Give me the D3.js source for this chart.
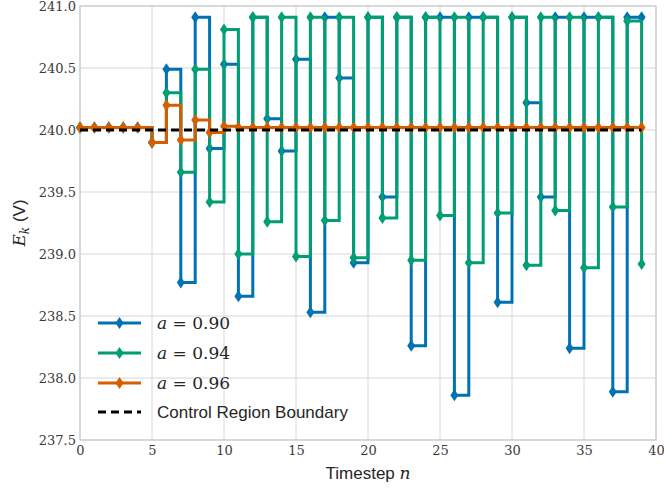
<!DOCTYPE html>
<html>
<head>
<meta charset="utf-8">
<script src="https://cdn.jsdelivr.net/npm/d3@7"></script>
<style>
  body { margin: 0; background: #fff; }
  svg { display: block; }
  .label { font-family: "Liberation Sans", "DejaVu Sans", sans-serif; font-size: 17px; fill: #262626; }
  .math { font-family: "DejaVu Serif", serif; }
</style>
</head>
<body>
<svg id="chart" width="664" height="489"></svg>
<script>
// timestep index n
const steps = d3.range(40);

// E_k (V) for each damping factor a
const a090 = [240.02, 240.02, 240.02, 240.02, 240.02, 239.90, 240.49, 238.77, 240.91, 239.85,
              240.53, 238.66, 240.91, 240.09, 239.83, 240.57, 238.53, 240.91, 240.42, 238.93,
              240.91, 239.46, 240.91, 238.26, 240.91, 240.91, 237.86, 240.91, 240.91, 238.61,
              240.91, 240.22, 239.46, 240.91, 238.24, 240.91, 240.91, 237.89, 240.91, 240.91];
const a094 = [240.02, 240.02, 240.02, 240.02, 240.02, 239.90, 240.30, 239.66, 240.49, 239.42,
              240.81, 239.00, 240.91, 239.26, 240.91, 238.98, 240.91, 239.27, 240.91, 238.97,
              240.91, 239.29, 240.91, 238.95, 240.91, 239.31, 240.91, 238.93, 240.91, 239.33,
              240.91, 238.91, 240.91, 239.35, 240.91, 238.89, 240.91, 239.38, 240.88, 238.92];
const a096 = [240.02, 240.02, 240.02, 240.02, 240.02, 239.90, 240.20, 239.92, 240.08, 239.98,
              240.03, 240.02, 240.02, 240.02, 240.02, 240.02, 240.02, 240.02, 240.02, 240.02,
              240.02, 240.02, 240.02, 240.02, 240.02, 240.02, 240.02, 240.02, 240.02, 240.02,
              240.02, 240.02, 240.02, 240.02, 240.02, 240.02, 240.02, 240.02, 240.02, 240.02];
const boundary = 240.0;

const seriesNames = ["0.90", "0.94", "0.96"];
const seriesColors = ["#0072b2", "#009e73", "#d55e00"];
const xTicks = [0, 5, 10, 15, 20, 25, 30, 35, 40];
const yTicks = [237.5, 238.0, 238.5, 239.0, 239.5, 240.0, 240.5, 241.0];

const series = [a090, a094, a096];

const mLeft = 80, mRight = 656, mTop = 6, mBottom = 440;

const svg = d3.select("#chart");

const x = d3.scaleLinear().domain([0, 40]).range([mLeft, mRight]);
const y = d3.scaleLinear().domain([237.5, 241.0]).range([mBottom, mTop]);

// grid
svg.append("g")
    .selectAll("line")
    .data(xTicks)
    .join("line")
    .attr("x1", d => x(d)).attr("x2", d => x(d))
    .attr("y1", mTop).attr("y2", mBottom)
    .attr("stroke", "#d6d6d6").attr("stroke-width", 1);

svg.append("g")
    .selectAll("line")
    .data(yTicks)
    .join("line")
    .attr("x1", mLeft).attr("x2", mRight)
    .attr("y1", d => y(d)).attr("y2", d => y(d))
    .attr("stroke", "#d6d6d6").attr("stroke-width", 1);

svg.append("rect")
    .attr("x", mLeft).attr("y", mTop)
    .attr("width", mRight - mLeft).attr("height", mBottom - mTop)
    .attr("fill", "none").attr("stroke", "#cccccc").attr("stroke-width", 1.2);

// axes (labels only)
const xAxis = svg.append("g")
    .attr("transform", `translate(0, ${mBottom})`)
    .call(d3.axisBottom(x).tickValues(xTicks).tickSize(0).tickPadding(6).tickFormat(d3.format("d")));
xAxis.select(".domain").remove();

const yAxis = svg.append("g")
    .attr("transform", `translate(${mLeft}, 0)`)
    .call(d3.axisLeft(y).tickValues(yTicks).tickSize(0).tickPadding(4).tickFormat(d3.format(".1f")));
yAxis.select(".domain").remove();

[xAxis, yAxis].forEach(ax => {
    ax.attr("font-family", null).attr("font-size", null);
    ax.selectAll("text")
        .style("font-family", "'DejaVu Serif', serif")
        .style("font-size", "13px")
        .style("fill", "#3a3a3a");
});

// step lines
const line = d3.line()
    .x((d, i) => x(steps[i]))
    .y(d => y(d))
    .curve(d3.curveStepAfter);

const diamond = "M0,-6L4,0L0,6L-4,0Z";

series.forEach((vals, k) => {
    const g = svg.append("g");
    g.append("path")
        .datum(vals)
        .attr("d", line)
        .attr("fill", "none")
        .attr("stroke", seriesColors[k])
        .attr("stroke-width", 3)
        .attr("stroke-linejoin", "miter");
    g.selectAll("path.mk")
        .data(vals)
        .join("path")
        .attr("class", "mk")
        .attr("d", diamond)
        .attr("transform", (d, i) => `translate(${x(steps[i])}, ${y(d)})`)
        .attr("fill", seriesColors[k]);
});

// control region boundary
svg.append("line")
    .attr("x1", x(steps[0])).attr("x2", x(steps[steps.length - 1]))
    .attr("y1", y(boundary)).attr("y2", y(boundary))
    .attr("stroke", "#000").attr("stroke-width", 3)
    .attr("stroke-dasharray", "8,5");

// axis titles
const xl = svg.append("text")
    .attr("class", "label")
    .attr("x", (mLeft + mRight) / 2)
    .attr("y", 479)
    .attr("text-anchor", "middle");
xl.append("tspan").text("Timestep ");
xl.append("tspan").attr("class", "math").attr("font-style", "italic").attr("font-size", "17px").text("n");

const yl = svg.append("text")
    .attr("class", "label")
    .attr("transform", `translate(25, ${(mTop + mBottom) / 2}) rotate(-90)`)
    .attr("text-anchor", "middle");
yl.append("tspan").attr("class", "math").attr("font-style", "italic").attr("font-size", "17px").text("E");
yl.append("tspan").attr("class", "math").attr("font-style", "italic")
    .attr("font-size", "12px").attr("dy", 4).text("k");
yl.append("tspan").attr("dy", -4).text(" (V)");

// legend
const legend = svg.append("g").attr("transform", "translate(98, 323)");
const items = seriesNames.map((s, i) => ({name: s, color: seriesColors[i]}));

items.forEach((it, i) => {
    const row = legend.append("g").attr("transform", `translate(0, ${i * 30})`);
    row.append("line")
        .attr("x1", 0).attr("x2", 43)
        .attr("stroke", it.color).attr("stroke-width", 3);
    row.append("path")
        .attr("d", diamond)
        .attr("transform", "translate(21.5, 0)")
        .attr("fill", it.color);
    const t = row.append("text")
        .attr("class", "label math")
        .attr("x", 59).attr("y", 6)
        .attr("font-size", "16px")
        .attr("fill", "#333");
    t.append("tspan").attr("font-style", "italic").text("a");
    t.append("tspan").text(" = " + it.name);
});

const lastRow = legend.append("g").attr("transform", "translate(0, 89)");
lastRow.append("line")
    .attr("x1", 0).attr("x2", 43)
    .attr("stroke", "#000").attr("stroke-width", 3)
    .attr("stroke-dasharray", "8,5");
lastRow.append("text")
    .attr("class", "label")
    .attr("x", 59).attr("y", 6)
    .text("Control Region Boundary");
</script>
</body>
</html>
